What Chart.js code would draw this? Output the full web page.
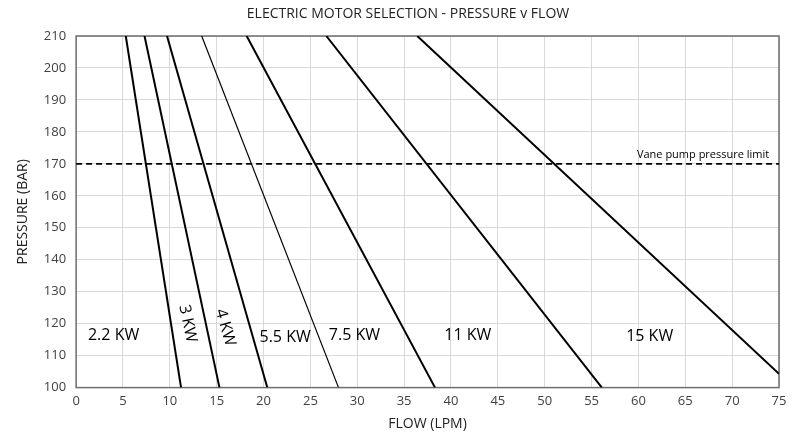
<!DOCTYPE html>
<html>
<head>
<meta charset="utf-8">
<script src="https://cdn.jsdelivr.net/npm/chart.js@4/dist/chart.umd.min.js"></script>
<style>
  html, body { margin: 0; padding: 0; background: #fff; }
  #wrap { width: 804px; height: 439px; position: relative; }
</style>
</head>
<body>
<div id="wrap"><canvas id="chart"></canvas></div>
<script>
// motor curves: [flow, pressure] end points
const motorNames = ["2.2 KW", "3 KW", "4 KW", "5.5 KW", "7.5 KW", "11 KW", "15 KW"];
const flowAtTop = [5.3, 7.3, 9.7, 13.4, 18.2, 26.7, 36.4];
const pressureAtTop = [210, 210, 210, 210, 210, 210, 210];
const flowAtBottom = [11.2, 15.3, 20.4, 28.0, 38.3, 56.1, 75];
const pressureAtBottom = [100, 100, 100, 100, 100, 100, 104.3];

const vaneLimit = 170;
const xTicks = [0, 5, 10, 15, 20, 25, 30, 35, 40, 45, 50, 55, 60, 65, 70, 75];
const yTicks = [100, 110, 120, 130, 140, 150, 160, 170, 180, 190, 200, 210];

const FONT = "'Open Sans', 'DejaVu Sans', sans-serif";

// where the curve names sit (data units) and how they are turned
const curveLabels = [
  { text: "2.2 KW", x: 4.0, y: 116.3, rot: 0 },
  { text: "3 KW", x: 11.9, y: 120, rot: 78 },
  { text: "4 KW", x: 15.9, y: 118.8, rot: 74 },
  { text: "5.5 KW", x: 22.3, y: 115.7, rot: 0 },
  { text: "7.5 KW", x: 29.7, y: 116.3, rot: 0 },
  { text: "11 KW", x: 41.8, y: 116.3, rot: 0 },
  { text: "15 KW", x: 61.2, y: 116, rot: 0 },
];

const datasets = motorNames.map((name, i) => ({
  label: name,
  data: [
    { x: flowAtTop[i], y: pressureAtTop[i] },
    { x: flowAtBottom[i], y: pressureAtBottom[i] },
  ],
  borderColor: "#000",
  borderWidth: name === "5.5 KW" ? 1.2 : 2,
  pointRadius: 0,
  showLine: true,
  fill: false,
}));

datasets.push({
  label: "Vane pump pressure limit",
  data: [
    { x: 0, y: vaneLimit },
    { x: 75, y: vaneLimit },
  ],
  borderColor: "#000",
  borderWidth: 1.8,
  borderDash: [6, 4],
  pointRadius: 0,
  showLine: true,
  fill: false,
});

const decorPlugin = {
  id: "decor",
  beforeDatasetsDraw(chart) {
    const { ctx, chartArea } = chart;
    ctx.save();
    ctx.strokeStyle = "#6e6e6e";
    ctx.lineWidth = 1.5;
    ctx.strokeRect(chartArea.left, chartArea.top, chartArea.right - chartArea.left, chartArea.bottom - chartArea.top);
    ctx.restore();
  },
  afterDatasetsDraw(chart) {
    const { ctx } = chart;
    const xs = chart.scales.x;
    const ys = chart.scales.y;
    ctx.save();
    ctx.fillStyle = "#000";
    ctx.textAlign = "center";
    ctx.textBaseline = "middle";
    ctx.font = "16px " + FONT;
    curveLabels.forEach((l) => {
      ctx.save();
      ctx.translate(xs.getPixelForValue(l.x), ys.getPixelForValue(l.y));
      ctx.rotate((l.rot * Math.PI) / 180);
      ctx.fillText(l.text, 0, 0);
      ctx.restore();
    });
    ctx.font = "11px " + FONT;
    ctx.fillText("Vane pump pressure limit", xs.getPixelForValue(66.9), ys.getPixelForValue(172.8));
    // title
    ctx.fillStyle = "#222";
    ctx.font = "14px " + FONT;
    ctx.fillText("ELECTRIC MOTOR SELECTION - PRESSURE v FLOW", 408, 14);
    ctx.restore();
  },
};

new Chart(document.getElementById("chart"), {
  type: "scatter",
  data: { datasets },
  plugins: [decorPlugin],
  options: {
    responsive: true,
    maintainAspectRatio: false,
    animation: false,
    layout: { padding: { top: 36, right: 25, left: 15, bottom: 7 } },
    plugins: { legend: { display: false }, tooltip: { enabled: false }, title: { display: false } },
    scales: {
      x: {
        type: "linear",
        min: 0,
        max: 75,
        afterBuildTicks: (s) => { s.ticks = xTicks.map((v) => ({ value: v })); },
        ticks: { color: "#404040", font: { family: FONT, size: 13 }, padding: 6 },
        grid: { color: "#d9d9d9", drawTicks: false },
        border: { display: false },
        title: { display: true, text: "FLOW (LPM)", color: "#222", font: { family: FONT, size: 14 }, padding: { top: 0, bottom: 0 } },
      },
      y: {
        type: "linear",
        min: 100,
        max: 210,
        afterBuildTicks: (s) => { s.ticks = yTicks.map((v) => ({ value: v })); },
        ticks: { color: "#404040", font: { family: FONT, size: 13 }, padding: 10 },
        grid: { color: "#d9d9d9", drawTicks: false },
        border: { display: false },
        title: { display: true, text: "PRESSURE (BAR)", color: "#222", font: { family: FONT, size: 14 }, padding: { top: 0, bottom: 2 } },
      },
    },
  },
});
</script>
</body>
</html>
